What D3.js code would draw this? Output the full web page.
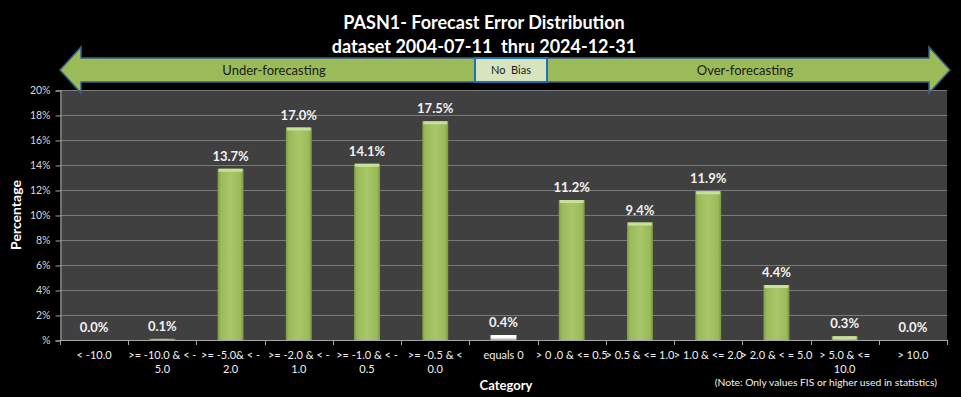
<!DOCTYPE html>
<html>
<head>
<meta charset="utf-8">
<script src="https://cdn.jsdelivr.net/npm/d3@7"></script>
<style>
  body { margin: 0; background: #000; }
  svg { display: block; font-family: Lato, "Open Sans", sans-serif; }
</style>
</head>
<body>
<svg id="chart" width="961" height="397"></svg>
<script>
// chart data
var titleLines = ["PASN1- Forecast Error Distribution", "dataset 2004-07-11  thru 2024-12-31"];
var categories = [
  ["< -10.0"],
  [">= -10.0 & < -", "5.0"],
  [">= -5.0& < -", "2.0"],
  [">= -2.0 & < -", "1.0"],
  [">= -1.0 & < -", "0.5"],
  [">= -0.5 & <", "0.0"],
  ["equals 0"],
  ["> 0 .0 & <= 0.5"],
  ["> 0.5 & <= 1.0"],
  ["> 1.0 & <= 2.0"],
  ["> 2.0 & < = 5.0"],
  ["> 5.0 & <=", "10.0"],
  ["> 10.0"]
];
var percents = [0.0, 0.1, 13.7, 17.0, 14.1, 17.5, 0.4, 11.2, 9.4, 11.9, 4.4, 0.3, 0.0];
var yTicks = [0, 2, 4, 6, 8, 10, 12, 14, 16, 18, 20];
var noBiasIndex = 6;

var svg = d3.select("#chart");
var plotLeft = 60, plotRight = 947, plotTop = 90, plotBottom = 340;

var x = d3.scaleBand()
  .domain(d3.range(categories.length))
  .range([plotLeft, plotRight])
  .paddingInner(0.62)
  .paddingOuter(0.31);
var xSlots = d3.scaleBand().domain(d3.range(categories.length)).range([plotLeft, plotRight]);
var y = d3.scaleLinear().domain([0, 20]).range([plotBottom, plotTop]);

// gradients
var defs = svg.append("defs");
var g1 = defs.append("linearGradient").attr("id", "greenBar").attr("x1", 0).attr("x2", 1).attr("y1", 0).attr("y2", 0);
[["0%", "#7e9a45"], ["12%", "#9bbb59"], ["50%", "#a8c76a"], ["88%", "#9bbb59"], ["100%", "#7a9642"]]
  .forEach(function(s) { g1.append("stop").attr("offset", s[0]).attr("stop-color", s[1]); });
var g2 = defs.append("linearGradient").attr("id", "whiteBar").attr("x1", 0).attr("x2", 0).attr("y1", 0).attr("y2", 1);
[["0%", "#ffffff"], ["60%", "#f2f2f2"], ["100%", "#a6a6a6"]]
  .forEach(function(s) { g2.append("stop").attr("offset", s[0]).attr("stop-color", s[1]); });

// plot background
svg.append("rect").attr("x", plotLeft).attr("y", plotTop).attr("width", plotRight - plotLeft).attr("height", plotBottom - plotTop)
  .attr("fill", "#404040");

// gridlines
svg.append("g").selectAll("line").data(yTicks.slice(1)).enter().append("line")
  .attr("x1", plotLeft).attr("x2", plotRight)
  .attr("y1", function(d) { return y(d) + 0.5; }).attr("y2", function(d) { return y(d) + 0.5; })
  .attr("stroke", "#7a7a7a").attr("stroke-width", 1);

// y axis
var yAxis = d3.axisLeft(y).tickValues(yTicks).tickSize(5).tickPadding(5)
  .tickFormat(function(d) { return d === 0 ? "%" : d + "%"; });
var yG = svg.append("g").attr("transform", "translate(" + (plotLeft + 0.5) + ",0.5)").call(yAxis);
yG.select(".domain").attr("stroke", "#a6a6a6");
yG.selectAll(".tick line").attr("stroke", "#a6a6a6");
yG.selectAll(".tick text").attr("fill", "#d9d9d9").style("font-size", "10.5px").style("font-family", "Lato, sans-serif");

// x axis line and ticks between categories
svg.append("line").attr("x1", plotLeft).attr("x2", plotRight).attr("y1", plotBottom + 0.5).attr("y2", plotBottom + 0.5)
  .attr("stroke", "#a6a6a6");
svg.append("g").selectAll("line").data(d3.range(categories.length + 1)).enter().append("line")
  .attr("x1", function(i) { return Math.round(plotLeft + i * xSlots.step()) + 0.5; })
  .attr("x2", function(i) { return Math.round(plotLeft + i * xSlots.step()) + 0.5; })
  .attr("y1", plotBottom).attr("y2", plotBottom + 5)
  .attr("stroke", "#a6a6a6");

// x labels
var xl = svg.append("g").selectAll("text").data(categories).enter().append("text")
  .attr("x", function(d, i) { return xSlots(i) + xSlots.bandwidth() / 2; })
  .attr("y", 359)
  .attr("text-anchor", "middle")
  .attr("fill", "#f2f2f2")
  .style("font-size", "11px");
xl.selectAll("tspan").data(function(d) { return d; }).enter().append("tspan")
  .attr("x", function() { return d3.select(this.parentNode).attr("x"); })
  .attr("dy", function(d, i) { return i === 0 ? 0 : 14; })
  .text(function(d) { return d; });

// bars
var bars = svg.append("g").selectAll("g").data(percents).enter().append("g");
bars.append("rect")
  .attr("x", function(d, i) { return x(i); })
  .attr("y", function(d) { return y(d); })
  .attr("width", x.bandwidth())
  .attr("height", function(d) { return plotBottom - y(d); })
  .attr("fill", function(d, i) { return i === noBiasIndex ? "url(#whiteBar)" : "url(#greenBar)"; });
bars.filter(function(d) { return y(0) - y(d) >= 2; }).append("rect")
  .attr("x", function(d) { return x(percents.indexOf(d)) + 1; })
  .attr("y", function(d) { return y(d); })
  .attr("width", x.bandwidth() - 2)
  .attr("height", function(d) { return Math.min(3, plotBottom - y(d)); })
  .attr("fill", function(d) { return percents.indexOf(d) === noBiasIndex ? "#ffffff" : "#c9df9c"; });

// value labels
svg.append("g").selectAll("text").data(percents).enter().append("text")
  .attr("x", function(d, i) { return x(i) + x.bandwidth() / 2; })
  .attr("y", function(d) { return y(d) - 8; })
  .attr("text-anchor", "middle")
  .attr("fill", "#f2f2f2")
  .style("font-size", "13px").style("font-weight", "bold")
  .text(function(d) { return d.toFixed(1) + "%"; });

// axis titles
svg.append("text").attr("transform", "translate(21,215) rotate(-90)")
  .attr("text-anchor", "middle").attr("fill", "#ffffff")
  .style("font-size", "14px").style("font-weight", "bold")
  .text("Percentage");
svg.append("text").attr("x", 506).attr("y", 390).attr("text-anchor", "middle")
  .attr("fill", "#ffffff").style("font-size", "13px").style("font-weight", "bold")
  .text("Category");
svg.append("text").attr("x", 937).attr("y", 386).attr("text-anchor", "end")
  .attr("fill", "#f2f2f2").style("font-size", "10.3px")
  .text("(Note: Only values FIS or higher used in statistics)");

// chart title
svg.append("g").selectAll("text").data(titleLines).enter().append("text")
  .attr("x", 484).attr("y", function(d, i) { return 29 + i * 24; })
  .attr("text-anchor", "middle").attr("fill", "#ffffff")
  .style("font-size", "18px").style("font-weight", "bold")
  .style("white-space", "pre")
  .text(function(d) { return d; });

// bias arrow
var aL = 60, aR = 950, aMid = 70, shaftH = 12, headH = 23, headW = 21;
var arrowPts = [
  [aL, aMid], [aL + headW, aMid - headH], [aL + headW, aMid - shaftH],
  [aR - headW, aMid - shaftH], [aR - headW, aMid - headH], [aR, aMid],
  [aR - headW, aMid + headH], [aR - headW, aMid + shaftH],
  [aL + headW, aMid + shaftH], [aL + headW, aMid + headH]
];
svg.append("path").attr("d", d3.line()(arrowPts) + "Z")
  .attr("fill", "#9bbb59").attr("stroke", "#385d8a").attr("stroke-width", 1.5);
svg.append("rect").attr("x", 475).attr("y", aMid - shaftH).attr("width", 72).attr("height", shaftH * 2)
  .attr("fill", "#d7e4bd").attr("stroke", "#1f6fb2").attr("stroke-width", 2);
svg.append("text").attr("x", 511).attr("y", aMid + 4).attr("text-anchor", "middle")
  .attr("fill", "#1a1a1a").style("font-size", "11px").style("white-space", "pre").text("No  Bias");
svg.append("text").attr("x", 274).attr("y", aMid + 5).attr("text-anchor", "middle")
  .attr("fill", "#1a1a1a").style("font-size", "13px").text("Under-forecasting");
svg.append("text").attr("x", 745).attr("y", aMid + 5).attr("text-anchor", "middle")
  .attr("fill", "#1a1a1a").style("font-size", "13px").text("Over-forecasting");
</script>
</body>
</html>
